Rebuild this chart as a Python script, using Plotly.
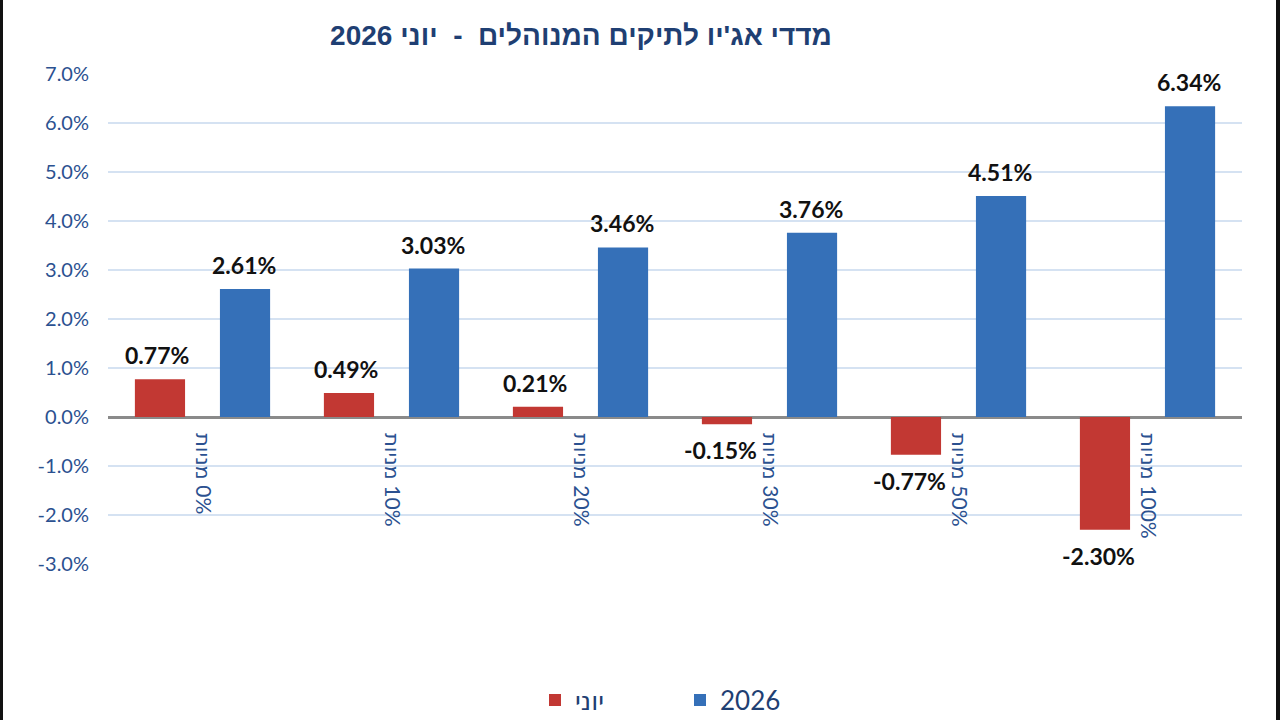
import plotly.graph_objects as go

LRM = "\u200E"
categories = ["מניות" + LRM + " 0%", "מניות" + LRM + " 10%", "מניות" + LRM + " 20%",
              "מניות" + LRM + " 30%", "מניות" + LRM + " 50%", "מניות" + LRM + " 100%"]
june = [0.77, 0.49, 0.21, -0.15, -0.77, -2.30]
ytd2026 = [2.61, 3.03, 3.46, 3.76, 4.51, 6.34]
series_names = ["יוני", "2026"]
y_ticks = [-3, -2, -1, 0, 1, 2, 3, 4, 5, 6, 7]
y_tick_text = [f"{v:.1f}%" for v in y_ticks]
title_text = "מדדי אג'יו לתיקים המנוהלים  -  יוני 2026"

RED = "#c23833"
BLUE = "#3570b8"
NAVY = "#2b5190"
FONT = "Lato, DejaVu Sans, sans-serif"

fig = go.Figure()
fig.add_trace(go.Bar(x=categories, y=june, name=series_names[0], marker_color=RED,
                     marker_line_width=0))
fig.add_trace(go.Bar(x=categories, y=ytd2026, name=series_names[1], marker_color=BLUE,
                     marker_line_width=0))

annotations = []
for vals, xs in ((june, -43.5), (ytd2026, 43.5)):
    for c, v in zip(categories, vals):
        annotations.append(dict(
            x=c, y=v, xref="x", yref="y", text=f"{v:.2f}%", showarrow=False,
            xshift=xs - (6 if v < 0 else 2),
            yanchor="bottom" if v >= 0 else "top",
            yshift=8 if v >= 0 else -10,
            font=dict(family=FONT, size=23, color="#111111", weight="bold"),
        ))

W = 1280
L, R, T, B = 108, 38, 74, 156
pw = W - L - R
ph = 720 - T - B

fig.update_layout(
    width=1280, height=720,
    margin=dict(l=L, r=R, t=T, b=B, autoexpand=False),
    paper_bgcolor="white", plot_bgcolor="white",
    barmode="group", bargap=0.10, bargroupgap=0.41,
    title=dict(text=title_text, x=581 / W, xanchor="center", y=1 - 35 / 720, yanchor="middle",
               font=dict(family="Liberation Sans, Arial, sans-serif", size=28,
                         color="#1f3f73", weight="bold")),
    xaxis=dict(anchor="free", position=0.3, showline=False, showgrid=False, ticks="",
               tickangle=90, tickfont=dict(family=FONT, size=21, color=NAVY),
               ticklabelstandoff=15, automargin=False),
    yaxis=dict(range=[-3, 7], tickvals=y_ticks, ticktext=y_tick_text,
               showgrid=True, gridcolor="#d5e2f2", gridwidth=1.5,
               zeroline=True, zerolinecolor="#8a8a8a", zerolinewidth=3,
               tickfont=dict(family=FONT, size=20, color=NAVY),
               ticklabelstandoff=18, showline=False, automargin=False),
    legend=dict(orientation="h", xref="container", yref="container",
                x=680 / W, xanchor="center", y=1 - 700 / 720, yanchor="middle",
                entrywidth=100, itemwidth=30,
                font=dict(family=FONT, size=26, color="#1f3f73")),
    annotations=annotations,
    shapes=[
        dict(type="rect", xref="paper", yref="paper", x0=-L / pw, x1=(-L + 3) / pw,
             y0=-B / ph, y1=1 + T / ph, fillcolor="#111111", line_width=0),
        dict(type="rect", xref="paper", yref="paper", x0=1 + (R - 4) / pw, x1=1 + R / pw,
             y0=-B / ph, y1=1 + T / ph, fillcolor="#111111", line_width=0),
    ],
)

fig.write_html("out.html")
